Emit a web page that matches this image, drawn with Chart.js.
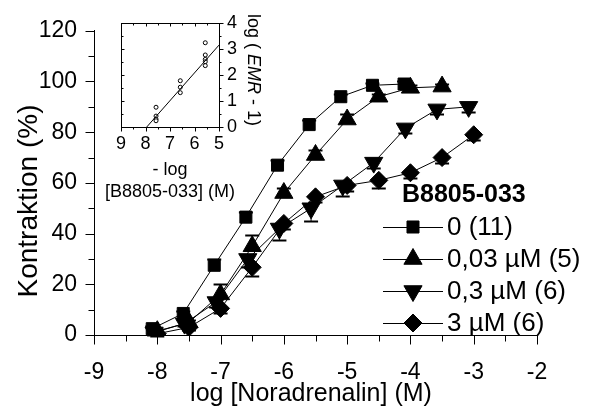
<!DOCTYPE html>
<html>
<head>
<meta charset="utf-8">
<script src="https://cdn.jsdelivr.net/npm/chart.js@4.4.1/dist/chart.umd.min.js"></script>
<style>
  body { margin: 0; background: #fff; }
  #wrap { position: relative; width: 589px; height: 410px; }
  #wrap canvas { position: absolute; left: 0; top: 0; }
</style>
</head>
<body>
<div id="wrap">
  <canvas id="main" width="589" height="410"></canvas>
  <canvas id="inset" width="589" height="410"></canvas>
</div>
<script>
const FONT = "'Liberation Sans', Arial, sans-serif";

// Konzentrations-Wirkungs-Kurven: log [Noradrenalin] (M) vs. Kontraktion (%)
const legendTitle = 'B8805-033';
const groups = ['0 (11)', '0,03 µM (5)', '0,3 µM (6)', '3 µM (6)'];

const xCtrl = [-8.08, -7.59, -7.1, -6.6, -6.1, -5.6, -5.1, -4.6, -4.1];
const yCtrl = [2.5, 8.5, 27.5, 46.5, 67, 83, 94, 98.5, 99];
const eCtrl = [1, 1, 2.5, 2, 2, 2, 1, 1, 1];

const x003 = [-8, -7.5, -7, -6.5, -6, -5.5, -5, -4.5, -4, -3.5];
const y003 = [1.5, 5, 16, 35, 56, 71, 85, 94, 97.5, 98];
const e003 = [1, 1, 4, 4.5, 2, 2, 2, 1, 1, 1];

const x03 = [-8.05, -7.57, -7.07, -6.57, -6.07, -5.57, -5.07, -4.58, -4.08, -3.58, -3.08];
const y03 = [1, 4.5, 13, 30, 42, 50, 59, 68, 81.5, 89, 90];
const e03 = [1, 1, 2, 3, 4.5, 5, 4, 2, 2, 2, 2];

const x3 = [-8, -7.5, -7, -6.5, -6, -5.5, -5, -4.5, -4, -3.5, -3];
const y3 = [0.5, 3, 10.5, 26.7, 44, 54.5, 59, 61, 64, 70, 79];
const e3 = [1, 1, 2, 3.5, 2, 2, 2, 3, 2, 2, 2];

// Schild-Plot (Inset): -log [B8805-033] vs. log(EMR - 1)
const schildX = [7.57, 7.57, 7.57, 7.57, 6.58, 6.58, 6.58, 5.56, 5.56, 5.56, 5.56, 5.56];
const schildY = [0.76, 0.42, 0.3, 0.24, 1.78, 1.53, 1.32, 3.24, 2.77, 2.6, 2.51, 2.36];
const fitX = [7.95, 5];
const fitY = [0, 3.15];

function pts(xs, ys) { return xs.map((x, i) => ({ x: x, y: ys[i] })); }

function series(label, xs, ys, errs, dir, style, radius, rot) {
  return {
    label: label,
    data: pts(xs, ys),
    errors: errs,
    errDir: dir,
    borderColor: '#000',
    backgroundColor: '#000',
    borderWidth: 1,
    pointStyle: style,
    pointRadius: radius,
    pointRotation: rot || 0,
    pointBorderWidth: 1,
    tension: 0
  };
}

// Fehlerbalken (SEM), einseitig
const errorBars = {
  id: 'errorBars',
  beforeDatasetsDraw(chart) {
    const ctx = chart.ctx, ys = chart.scales.y;
    chart.data.datasets.forEach((ds, i) => {
      if (!ds.errors) return;
      const meta = chart.getDatasetMeta(i);
      ctx.save();
      ctx.strokeStyle = '#000';
      meta.data.forEach((pt, j) => {
        const yEnd = Math.round(ys.getPixelForValue(ds.data[j].y + ds.errDir * ds.errors[j])) + 0.5;
        ctx.lineWidth = 1;
        ctx.beginPath();
        ctx.moveTo(pt.x, pt.y);
        ctx.lineTo(pt.x, yEnd);
        ctx.stroke();
        ctx.lineWidth = 2;
        ctx.beginPath();
        ctx.moveTo(pt.x - 7, yEnd);
        ctx.lineTo(pt.x + 7, yEnd);
        ctx.stroke();
      });
      ctx.restore();
    });
  }
};

// Haupt- und Nebenteilstriche
const tickMarks = {
  id: 'tickMarks',
  afterDraw(chart, args, opts) {
    const ctx = chart.ctx, a = chart.chartArea;
    ctx.save();
    ctx.strokeStyle = '#000';
    ctx.lineWidth = 1;
    (opts.marks || []).forEach(m => {
      const sc = chart.scales[m.scale];
      for (let v = m.min; v <= m.max + 1e-9; v += m.step) {
        const r = v / m.major;
        const len = Math.abs(r - Math.round(r)) < 1e-6 ? m.len : m.minorLen;
        const p = Math.round(sc.getPixelForValue(v)) + 0.5;
        ctx.beginPath();
        if (m.edge === 'bottom' || m.edge === 'top') {
          const b = Math.round(m.edge === 'bottom' ? a.bottom : a.top) + 0.5;
          ctx.moveTo(p, b);
          ctx.lineTo(p, b + m.dir * len);
        } else {
          const b = Math.round(m.edge === 'left' ? a.left : a.right) + 0.5;
          ctx.moveTo(b, p);
          ctx.lineTo(b + m.dir * len, p);
        }
        ctx.stroke();
      }
    });
    ctx.restore();
  }
};

const mainText = {
  id: 'mainText',
  afterDraw(chart) {
    const ctx = chart.ctx;
    ctx.save();
    ctx.fillStyle = '#000';
    ctx.strokeStyle = '#000';
    ctx.textBaseline = 'middle';

    ctx.font = '25px ' + FONT;
    ctx.textAlign = 'center';
    ctx.fillText('log [Noradrenalin] (M)', 311, 394);
    ctx.save();
    ctx.font = '28px ' + FONT;
    ctx.translate(29, 201);
    ctx.rotate(-Math.PI / 2);
    ctx.fillText('Kontraktion (%)', 0, 0);
    ctx.restore();

    // Legende
    ctx.textAlign = 'left';
    ctx.font = 'bold 25px ' + FONT;
    ctx.fillText(legendTitle, 402, 195);
    ctx.font = '26px ' + FONT;
    const x0 = 383, len = 60;
    chart.data.datasets.forEach((ds, i) => {
      const y = 227 + i * 32;
      ctx.lineWidth = 1;
      ctx.beginPath();
      ctx.moveTo(x0, y + 0.5);
      ctx.lineTo(x0 + len, y + 0.5);
      ctx.stroke();
      Chart.helpers.drawPoint(ctx, {
        pointStyle: ds.pointStyle, radius: ds.pointRadius,
        rotation: ds.pointRotation, borderWidth: 1
      }, x0 + len / 2, y);
      ctx.fillText(ds.label, x0 + len + 4, y + 1);
    });
    ctx.restore();
  }
};

new Chart(document.getElementById('main'), {
  type: 'line',
  data: {
    datasets: [
      series(groups[0], xCtrl, yCtrl, eCtrl, 1, 'rect', 8.5),
      series(groups[1], x003, y003, e003, 1, 'triangle', 10.5),
      series(groups[2], x03, y03, e03, -1, 'triangle', 10.5, 180),
      series(groups[3], x3, y3, e3, -1, 'rectRot', 9)
    ]
  },
  options: {
    responsive: false,
    animation: false,
    devicePixelRatio: 1,
    layout: { padding: { top: 21, right: 52, left: 0, bottom: 0 } },
    plugins: {
      legend: { display: false },
      tooltip: { enabled: false },
      tickMarks: {
        marks: [
          { scale: 'x', edge: 'bottom', dir: 1, min: -9, max: -2, step: 0.5, major: 1, len: 9, minorLen: 6 },
          { scale: 'y', edge: 'left', dir: -1, min: 0, max: 120, step: 10, major: 20, len: 9, minorLen: 6 }
        ]
      }
    },
    scales: {
      x: {
        type: 'linear', min: -9, max: -2,
        afterFit: s => { s.height = 75; },
        grid: { display: false, drawTicks: false },
        border: { display: true, color: '#000', width: 1 },
        ticks: { stepSize: 1, padding: 24, color: '#000', font: { family: FONT, size: 23 } }
      },
      y: {
        min: 0, max: 120,
        afterFit: s => { s.width = 94; },
        grid: { display: false, drawTicks: false },
        border: { display: true, color: '#000', width: 1 },
        ticks: { stepSize: 20, padding: 17, color: '#000', font: { family: FONT, size: 23 } }
      }
    }
  },
  plugins: [errorBars, tickMarks, mainText]
});

const insetText = {
  id: 'insetText',
  afterDraw(chart) {
    const ctx = chart.ctx, a = chart.chartArea;
    ctx.save();
    ctx.strokeStyle = '#000';
    ctx.lineWidth = 1;
    ctx.strokeRect(Math.round(a.left) + 0.5, Math.round(a.top) + 0.5,
      Math.round(a.right - a.left), Math.round(a.bottom - a.top));

    ctx.fillStyle = '#000';
    ctx.textBaseline = 'middle';
    ctx.textAlign = 'center';
    ctx.font = '18px ' + FONT;
    ctx.fillText('- log', 170, 170);
    ctx.fillText('[B8805-033] (M)', 170, 192);

    // log ( EMR - 1), im Uhrzeigersinn gedreht
    const parts = [['log ( ', '18px '], ['EMR', 'italic 18px '], [' - 1)', '18px ']];
    let total = 0;
    parts.forEach(p => { ctx.font = p[1] + FONT; total += ctx.measureText(p[0]).width; });
    ctx.translate(253, 70);
    ctx.rotate(Math.PI / 2);
    ctx.textAlign = 'left';
    let x = -total / 2;
    parts.forEach(p => {
      ctx.font = p[1] + FONT;
      ctx.fillText(p[0], x, 0);
      x += ctx.measureText(p[0]).width;
    });
    ctx.restore();
  }
};

new Chart(document.getElementById('inset'), {
  type: 'scatter',
  data: {
    datasets: [
      {
        type: 'line',
        data: pts(fitX, fitY),
        borderColor: '#000',
        borderWidth: 1,
        pointRadius: 0
      },
      {
        data: pts(schildX, schildY),
        pointStyle: 'circle',
        pointRadius: 2,
        borderColor: '#000',
        backgroundColor: '#fff',
        pointBorderWidth: 1
      }
    ]
  },
  options: {
    responsive: false,
    animation: false,
    devicePixelRatio: 1,
    layout: { padding: { top: 23, left: 121, right: 0, bottom: 0 } },
    plugins: {
      legend: { display: false },
      tooltip: { enabled: false },
      tickMarks: {
        marks: [
          { scale: 'x', edge: 'bottom', dir: 1, min: 5, max: 9, step: 0.5, major: 1, len: 4, minorLen: 2 },
          { scale: 'x', edge: 'top', dir: 1, min: 5, max: 9, step: 0.5, major: 1, len: 3, minorLen: 2 },
          { scale: 'y', edge: 'right', dir: 1, min: 0, max: 4, step: 0.5, major: 1, len: 4, minorLen: 2 },
          { scale: 'y', edge: 'left', dir: 1, min: 0, max: 4, step: 0.5, major: 1, len: 3, minorLen: 2 }
        ]
      }
    },
    scales: {
      x: {
        type: 'linear', min: 5, max: 9, reverse: true,
        afterFit: s => { s.height = 283; },
        grid: { display: false, drawTicks: false },
        border: { display: false },
        ticks: { stepSize: 1, padding: 6, color: '#000', font: { family: FONT, size: 18 } }
      },
      y: {
        position: 'right', min: 0, max: 4,
        afterFit: s => { s.width = 370; },
        grid: { display: false, drawTicks: false },
        border: { display: false },
        ticks: { stepSize: 1, padding: 8, color: '#000', font: { family: FONT, size: 18 } }
      }
    }
  },
  plugins: [tickMarks, insetText]
});
</script>
</body>
</html>
